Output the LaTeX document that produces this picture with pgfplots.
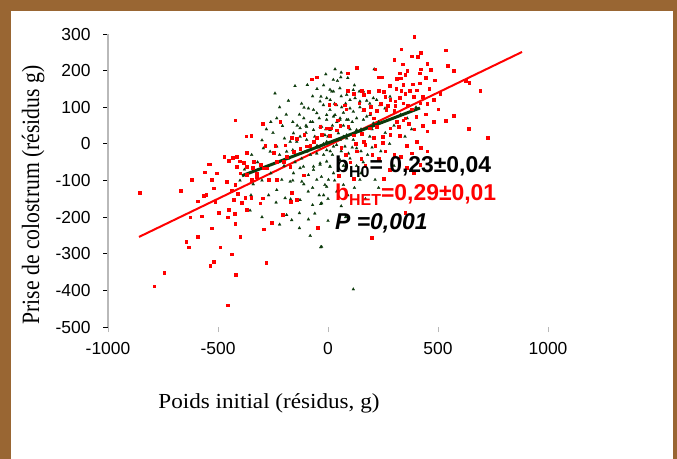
\documentclass[border=0pt]{standalone}
\usepackage{pgfplots}
\pgfplotsset{compat=1.18}
\usepackage{graphicx}
\usepackage{fontspec}
\setmainfont{Liberation Serif}
\newfontfamily\arial{Liberation Sans}
\definecolor{brownframe}{RGB}{153,102,51}
\definecolor{dkgreen}{RGB}{12,58,12}
\definecolor{axgray}{RGB}{185,185,185}
\pgfplotstableread{
x y
32 204
58 182
43 172
9 148
25 143
-32 129
-36 116
-109 99
-89 97
-66 93
-51 84
-6 79
25 75
55 70
85 66
-241 138
-180 118
-150 158
-94 161
-207 49
-198 15
-233 70
-157 29
-127 43
-97 47
-66 38
-36 47
-127 20
-97 11
-142 6
-172 6
-188 -21
-160 -17
-233 -7
-263 -21
-294 -12
-347 -30
-97 -21
-51 -26
-6 -17
25 -7
55 11
85 24
-36 -53
-66 -71
-112 -62
-157 -80
9 -62
55 -44
93 -26
-354 -182
-233 -126
-236 -160
-195 -148
-170 -151
-127 -153
-188 -194
-165 -208
-130 -189
-89 -206
-70 -167
-33 -164
-81 -251
-33 -282
-210 -98
-172 -103
-119 -103
-89 -85
-51 -98
-6 -117
2 -98
-66 -62
-127 -66
-36 -57
25 -80
210 204
24 175
17 143
54 152
85 134
115 147
142 143
123 125
100 120
145 116
176 118
-6 125
-21 106
39 106
62 100
9 93
100 97
115 88
145 100
176 75
161 66
206 56
130 38
92 66
54 66
32 79
-6 66
-29 47
9 38
47 29
85 15
115 11
130 -12
77 -7
39 -3
-6 6
-14 24
191 79
221 120
236 106
259 97
282 129
206 125
161 143
115 -397
-29 -281
-14 -112
-29 -162
70 -112
145 -98
214 -98
9 -62
-6 -48
20 -30
60 -20
100 -40
130 -60
40 -130
90 -140
160 -50
150 -20
110 -10
70 -60
30 -100
180 -30
120 -120
-20 -140
60 -170
-80 60
-110 70
-140 50
-60 20
-20 0
0 20
-40 -10
-80 -30
-120 -40
-150 -50
-200 -60
-260 -80
-300 -100
-180 -40
-220 -30
-100 30
10 40
70 50
110 60
150 40
190 20
230 60
260 30
300 50
330 80
360 70
400 100
280 0
240 -20
200 -10
-250 30
-280 40
-300 10
-320 -50
-380 -70
-340 -110
-270 -140
-300 -200
-220 -220
-130 -230
-60 -190
0 -210
-90 -130
-40 -140
80 -200
170 -150
230 -120
300 -60
350 20
380 40
-400 -100
-350 -140
-130 80
-120 110
-70 130
-50 150
-20 160
10 120
30 110
60 130
80 110
70 85
40 60
20 50
-10 40
-40 70
-70 60
-100 50
-160 60
-190 80
-220 100
-260 60
-50 -5
-20 -30
10 -20
40 10
70 20
100 40
130 70
160 90
190 110
120 160
90 180
60 195
-10 190
-160 -100
-110 -110
-70 -120
-30 -90
0 -150
150 -80
200 40
}\greendata
\pgfplotstableread{
x y
-422 65
-372 21
-350 23
-297 56
-218 61
-74 177
-51 182
88 193
88 145
5 108
-472 -34
-453 -45
-433 -37
-415 -35
-403 -47
-369 -24
-385 -51
-415 -62
-539 -55
-562 -77
-507 -80
-619 -97
-342 -65
-306 -57
-248 -24
-241 -5
-286 -5
-195 -3
-165 18
-142 15
-109 25
-82 -4
-36 47
-6 43
12 43
-28 25
43 65
55 49
32 109
82 95
-369 -83
-324 -89
-278 -66
-233 -48
-188 -35
-157 -21
-127 -12
-97 -6
-66 6
-51 18
6 22
-857 -133
-669 -128
-622 -98
-594 -156
-566 -142
-554 -139
-544 -55
-506 -80
-528 -97
-521 -121
-513 -158
-498 -188
-460 -103
-422 -112
-438 -126
-410 -135
-430 -153
-453 -180
-456 -200
-425 -191
-422 -217
-400 -253
-528 -230
-592 -253
-645 -267
-635 -282
-491 -282
-438 -301
-521 -322
-536 -333
-419 -356
-282 -324
-745 -352
-791 -388
-457 -440
-574 -197
-627 -200
-377 -147
-350 -147
-392 -160
-309 -162
-294 -233
-256 -215
-206 -194
-165 -133
-169 -158
-142 -153
-112 -85
-48 -229
47 -87
-298 -148
-369 -180
-347 -98
-271 -98
-233 -98
-324 -80
-294 -66
-369 -62
-400 -80
-339 -48
-203 -48
-172 -62
198 -256
350 -188
50 -87
115 -94
252 -94
168 -60
358 -64
418 -57
392 293
332 259
536 256
380 240
406 239
130 209
338 218
544 213
570 200
421 204
214 204
327 193
350 190
415 193
467 202
444 181
485 174
312 178
229 182
244 182
626 172
641 168
342 161
415 166
385 163
332 145
370 145
403 147
153 145
183 143
229 145
252 143
691 145
509 137
350 137
115 137
161 134
282 120
305 117
327 126
342 111
362 106
418 111
305 104
271 104
194 102
142 111
77 106
161 93
191 84
221 90
264 93
206 70
350 70
312 61
342 65
365 56
445 81
570 77
536 64
451 35
638 41
726 17
392 40
320 47
282 25
327 22
249 20
206 18
153 29
115 24
92 47
403 6
358 -5
249 4
214 -5
168 -2
127 1
161 6
9 24
39 38
-9 43
188 43
282 43
221 47
260 -20
300 -30
230 -40
330 -35
380 -25
420 -10
450 -20
280 -70
200 -30
150 -40
100 -50
80 -30
390 -80
60 -10
130 -20
300 230
360 200
420 250
450 220
280 160
310 150
390 130
430 130
460 150
480 120
260 130
240 110
300 90
400 75
430 50
480 60
500 95
380 95
450 110
330 180
}\reddata
\begin{document}
\begin{tikzpicture}[x=1bp,y=1bp]
\fill[brownframe] (0,0) rectangle (677,-459);
\fill[white] (11,-11) rectangle (673,-459);
\begin{axis}[
  at={(108bp,-327bp)}, anchor=south west,
  scale only axis, width=440bp, height=293bp,
  xmin=-1000, xmax=1000, ymin=-500, ymax=300,
  xtick={-1000,-500,0,500,1000},
  ytick={-500,-400,-300,-200,-100,0,100,200,300},
  axis x line=bottom, axis y line=left,
  axis line style={-},
  x axis line style={draw=none},
  y axis line style={draw=axgray, line width=1.3bp},
  tick align=outside, major tick length=5bp,
  xtick style={draw=axgray, line width=0.8bp},
  ytick style={draw=black, line width=0.8bp},
  ticklabel style={font=\arial\fontsize{17.5}{17.5}\selectfont},
  /pgf/number format/assume math mode=true,
  /pgf/number format/1000 sep={},
  xticklabel style={yshift=-7bp},
  yticklabel style={xshift=-9bp},
  clip=false,
]
\addplot[only marks, mark=triangle*, mark size=1.7bp, mark options={draw=dkgreen, fill=dkgreen, line width=0.2bp}] table {\greendata};
\addplot[only marks, mark=square*, mark size=1.35bp, mark options={draw=red, fill=red, line width=0.2bp}] table {\reddata};
\addplot[red, line width=2bp] coordinates {(-859,-254) (882,251)};
\addplot[dkgreen, line width=3bp] coordinates {(-391,-87) (418,98)};
\end{axis}
\node[anchor=base west, font=\arial\bfseries\fontsize{23}{23}\selectfont, inner sep=0pt] at (335,-173) {b\raisebox{-5bp}{\fontsize{16}{16}\selectfont H0}= 0,23±0,04};
\node[anchor=base west, font=\arial\bfseries\fontsize{23}{23}\selectfont, inner sep=0pt, text=red] at (335,-201) {b\raisebox{-5bp}{\fontsize{16}{16}\selectfont HET}=0,29±0,01};
\node[anchor=base west, font=\arial\bfseries\itshape\fontsize{23}{23}\selectfont, inner sep=0pt] at (335,-230) {P =0,001};
\node[anchor=base, inner sep=0pt] at (269,-408) {\scalebox{1.08}[1]{\fontsize{21.5}{21.5}\selectfont Poids initial (résidus, g)}};
\node[anchor=base, inner sep=0pt, rotate=90] at (39,-195) {\scalebox{0.87}[1]{\fontsize{25}{25}\selectfont Prise de colostrum (résidus g)}};
\end{tikzpicture}
\end{document}
